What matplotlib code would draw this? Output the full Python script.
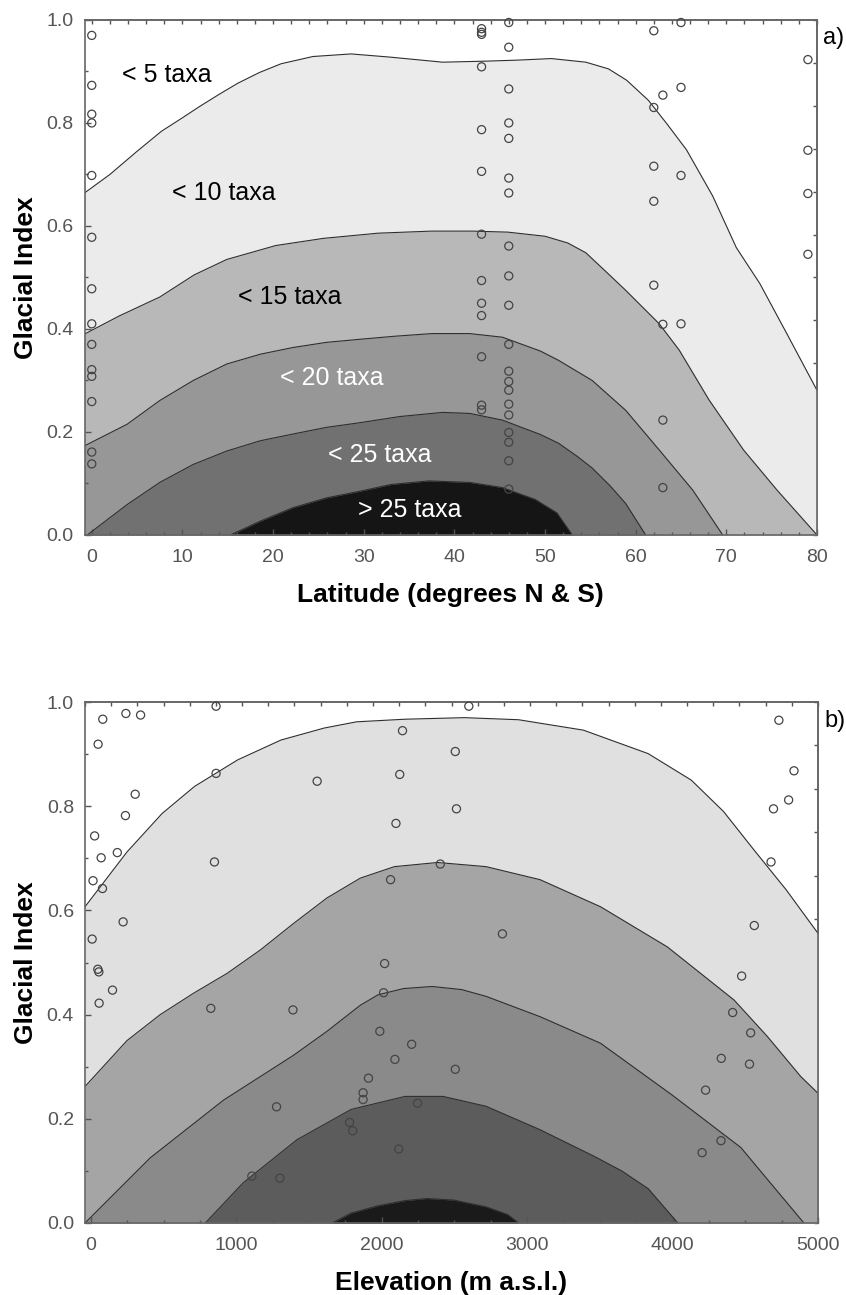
import numpy as np
import matplotlib
matplotlib.use('Agg')
import matplotlib.pyplot as plt
from matplotlib.ticker import MultipleLocator, FormatStrFormatter

plt.rcParams['font.family'] = ['Liberation Sans', 'DejaVu Sans']

# ---- panel a: contour boundaries (latitude vs glacial index) ----
a_b1_x = [-0.8, 2, 5, 7.7, 10, 11.9, 14, 16.1, 18.5, 20.9, 24.4, 28.6, 32.8, 38.7, 43.5,
          47, 50.7, 54.5, 57, 59, 61.4, 63.5, 65.6, 68.5, 71.1, 73.7, 76.7, 80]
a_b1_y = [0.664, 0.70, 0.745, 0.784, 0.81, 0.832, 0.855, 0.877, 0.898, 0.915, 0.929, 0.934,
          0.928, 0.918, 0.92, 0.922, 0.925, 0.918, 0.905, 0.883, 0.844, 0.797, 0.748, 0.658,
          0.558, 0.488, 0.39, 0.281]
a_b2_x = [-0.8, 3, 7.5, 11.3, 14.9, 20.3, 25.6, 31.6, 37.5, 42, 45.9, 50, 52.5, 54.5, 56.5,
          58.9, 62.6, 64.8, 68.1, 71.9, 75.6, 80]
a_b2_y = [0.39, 0.425, 0.462, 0.505, 0.535, 0.562, 0.576, 0.586, 0.59, 0.59, 0.588, 0.58,
          0.567, 0.548, 0.515, 0.475, 0.41, 0.359, 0.262, 0.165, 0.087, 0.0]
a_b3_x = [-0.8, 3.9, 7.5, 11.2, 14.9, 18.6, 22.2, 25.9, 29.6, 33.5, 37.5, 41.7, 45.3, 49.5,
          51.5, 55.2, 58.9, 62.6, 66.3, 69.6]
a_b3_y = [0.173, 0.215, 0.261, 0.30, 0.332, 0.351, 0.364, 0.374, 0.38, 0.386, 0.391, 0.391,
          0.384, 0.357, 0.339, 0.30, 0.242, 0.165, 0.087, 0.0]
a_b4_x = [-0.5, 3.9, 7.5, 11.2, 14.9, 18.6, 22.2, 25.9, 29.6, 34, 38.7, 41.7, 45.3, 49.5,
          51.5, 53.6, 55.2, 57.2, 58.9, 61.1]
a_b4_y = [0.0, 0.059, 0.102, 0.137, 0.163, 0.183, 0.196, 0.209, 0.218, 0.23, 0.238, 0.236,
          0.223, 0.195, 0.178, 0.152, 0.13, 0.095, 0.061, 0.0]
a_b5_x = [15.3, 18.6, 22.2, 25.9, 29.6, 33, 37.2, 41.7, 45.3, 48.9, 51.3, 53]
a_b5_y = [0.0, 0.027, 0.053, 0.072, 0.085, 0.098, 0.105, 0.102, 0.092, 0.069, 0.043, 0.0]

# sites: latitude and glacial index
a_pts_x = [0] * 14 + [43] * 13 + [46] * 20 + [62] * 5 + [63] * 4 + [65] * 4 + [79] * 4
a_pts_y = [0.97, 0.873, 0.817, 0.80, 0.698, 0.578, 0.478, 0.41, 0.37, 0.321, 0.308, 0.259, 0.161, 0.138,
           0.983, 0.976, 0.972, 0.909, 0.787, 0.706, 0.584, 0.494, 0.45, 0.426, 0.346, 0.252, 0.243,
           0.995, 0.947, 0.866, 0.80, 0.77, 0.693, 0.664, 0.561, 0.503, 0.446, 0.37, 0.318, 0.298,
           0.281, 0.254, 0.233, 0.199, 0.18, 0.144, 0.089,
           0.979, 0.83, 0.716, 0.648, 0.485,
           0.854, 0.409, 0.223, 0.092,
           0.995, 0.869, 0.698, 0.41,
           0.923, 0.747, 0.663, 0.545]

a_labels = ['< 5 taxa', '< 10 taxa', '< 15 taxa', '< 20 taxa', '< 25 taxa', '> 25 taxa']
a_label_x = [8.3, 14.6, 21.8, 26.5, 31.8, 35.1]
a_label_y = [0.893, 0.664, 0.462, 0.305, 0.155, 0.049]
a_label_c = ['black', 'black', 'black', 'white', 'white', 'white']

# ---- panel b: contour boundaries (elevation vs glacial index) ----
b_b1_x = [-40, 248, 490, 713, 1010, 1307, 1604, 1827, 2161, 2570, 2941, 3387, 3832, 4129,
          4350, 4560, 4780, 5000]
b_b1_y = [0.607, 0.712, 0.786, 0.838, 0.889, 0.927, 0.95, 0.962, 0.967, 0.970, 0.966, 0.946,
          0.901, 0.85, 0.79, 0.716, 0.64, 0.556]
b_b2_x = [-40, 248, 477, 706, 936, 1165, 1394, 1624, 1853, 2087, 2384, 2718, 3089, 3505,
          3964, 4423, 4652, 4882, 5000]
b_b2_y = [0.262, 0.35, 0.400, 0.441, 0.479, 0.524, 0.575, 0.624, 0.662, 0.684, 0.692, 0.684,
          0.659, 0.607, 0.53, 0.428, 0.358, 0.281, 0.249]
b_b3_x = [-40, 408, 913, 1165, 1394, 1624, 1853, 1975, 2150, 2347, 2550, 2718, 3089, 3505,
          4000, 4469, 4903]
b_b3_y = [0.0, 0.125, 0.236, 0.281, 0.322, 0.368, 0.418, 0.438, 0.45, 0.454, 0.448, 0.435,
          0.396, 0.345, 0.245, 0.145, 0.0]
b_b4_x = [787, 1047, 1418, 1790, 2161, 2421, 2718, 3089, 3461, 3650, 3832, 4036]
b_b4_y = [0.0, 0.077, 0.16, 0.218, 0.243, 0.243, 0.224, 0.179, 0.128, 0.1, 0.066, 0.0]
b_b5_x = [1660, 1790, 1975, 2161, 2310, 2496, 2718, 2867, 2941]
b_b5_y = [0.0, 0.019, 0.033, 0.043, 0.047, 0.044, 0.031, 0.016, 0.0]

# sites: elevation (m) and glacial index
b_pts_x = [82, 241, 342, 861, 2599, 50, 2143, 2506, 861, 1556, 2124, 305, 238, 2514, 2098,
           26, 71, 182, 850, 2403, 15, 80, 2061, 222, 2830, 9, 2020, 48, 55, 149, 57,
           2013, 825, 1390, 1987, 2206, 2091, 2506, 1909, 1872, 1872, 1277, 2247, 1779,
           1801, 2117, 1107, 1300,
           4731, 4835, 4798, 4694, 4677, 4562, 4475, 4413, 4537, 4335, 4529, 4227, 4333, 4203]
b_pts_y = [0.967, 0.978, 0.975, 0.992, 0.992, 0.919, 0.945, 0.905, 0.863, 0.848, 0.861, 0.823,
           0.782, 0.795, 0.767, 0.743, 0.701, 0.711, 0.693, 0.689, 0.657, 0.642, 0.659, 0.578,
           0.555, 0.545, 0.498, 0.487, 0.482, 0.447, 0.422,
           0.442, 0.412, 0.409, 0.368, 0.343, 0.314, 0.295, 0.278, 0.25, 0.237, 0.223, 0.23,
           0.193, 0.177, 0.142, 0.09, 0.086,
           0.965, 0.868, 0.812, 0.795, 0.693, 0.571, 0.474, 0.404, 0.365, 0.316, 0.305, 0.255,
           0.158, 0.135]

a_colors = ['#ebebeb', '#b8b8b8', '#979797', '#717171', '#151515']
b_colors = ['#e0e0e0', '#a5a5a5', '#8a8a8a', '#5c5c5c', '#1a1a1a']


def draw_bands(ax, bounds, colors):
    for (bx, by), c in zip(bounds, colors):
        ax.fill_between(bx, 0, by, color=c, lw=0, zorder=1)
    for bx, by in bounds:
        ax.plot(bx, by, color='#2e2e2e', lw=0.8, zorder=2)


def style(ax, xlim, xmaj, xmin, top_ticks):
    ax.set_xlim(xlim)
    ax.set_ylim(0, 1)
    ax.xaxis.set_major_locator(MultipleLocator(xmaj))
    ax.xaxis.set_minor_locator(MultipleLocator(xmin))
    ax.yaxis.set_major_locator(MultipleLocator(0.2))
    ax.yaxis.set_minor_locator(MultipleLocator(0.1))
    ax.yaxis.set_major_formatter(FormatStrFormatter('%.1f'))
    ax.tick_params(which='both', direction='in', colors='#555555', labelsize=14, width=1)
    ax.tick_params(which='major', length=4)
    ax.tick_params(which='minor', length=2.5)
    ax.tick_params(axis='x', pad=10)
    ax.tick_params(axis='y', pad=8)
    for s in ax.spines.values():
        s.set_color('#666666')
        s.set_linewidth(1.2)
    top = ax.secondary_xaxis('top')
    top.set_xticks(top_ticks)
    top.xaxis.set_ticklabels([])
    top.tick_params(direction='in', length=3, color='#555555', width=1)
    top.spines['top'].set_color('#666666')
    top.spines['top'].set_linewidth(1.2)
    right = ax.secondary_yaxis('right')
    right.set_yticks(np.arange(0, 1.0001, 1 / 12))
    right.yaxis.set_ticklabels([])
    right.tick_params(direction='in', length=3, color='#555555', width=1)
    right.spines['right'].set_color('#666666')
    right.spines['right'].set_linewidth(1.2)


fig = plt.figure(figsize=(8.46, 12.95), dpi=100)
axa = fig.add_axes([0.0999, 0.5869, 0.8658, 0.3977])
axb = fig.add_axes([0.1005, 0.0556, 0.8664, 0.4023])

# panel a
draw_bands(axa, [(a_b1_x, a_b1_y), (a_b2_x, a_b2_y), (a_b3_x, a_b3_y),
                 (a_b4_x, a_b4_y), (a_b5_x, a_b5_y)], a_colors)
axa.scatter(a_pts_x, a_pts_y, s=34, facecolors='none', edgecolors='#444444',
            linewidths=0.9, zorder=3, clip_on=False)
for t, x, y, c in zip(a_labels, a_label_x, a_label_y, a_label_c):
    axa.text(x, y, t, ha='center', va='center', fontsize=18, color=c, zorder=4)
style(axa, (-0.8, 80), 10, 2, np.arange(0, 81, 2))
axa.set_xlabel('Latitude (degrees N & S)', fontsize=19, fontweight='bold', labelpad=12)
axa.set_ylabel('Glacial Index', fontsize=19, fontweight='bold', labelpad=6)

# panel b
draw_bands(axb, [(b_b1_x, b_b1_y), (b_b2_x, b_b2_y), (b_b3_x, b_b3_y),
                 (b_b4_x, b_b4_y), (b_b5_x, b_b5_y)], b_colors)
axb.scatter(b_pts_x, b_pts_y, s=34, facecolors='none', edgecolors='#444444',
            linewidths=0.9, zorder=3, clip_on=False)
style(axb, (-40, 5000), 1000, 250, np.arange(5000, -41, -180))
axb.set_xlabel('Elevation (m a.s.l.)', fontsize=19, fontweight='bold', labelpad=12)
axb.set_ylabel('Glacial Index', fontsize=19, fontweight='bold', labelpad=6)

fig.text(823 / 846, 1 - 38 / 1295, 'a)', fontsize=17, ha='left', va='center')
fig.text(824 / 846, 1 - 721 / 1295, 'b)', fontsize=17, ha='left', va='center')

fig.savefig('out.png', dpi=100, facecolor='white')
